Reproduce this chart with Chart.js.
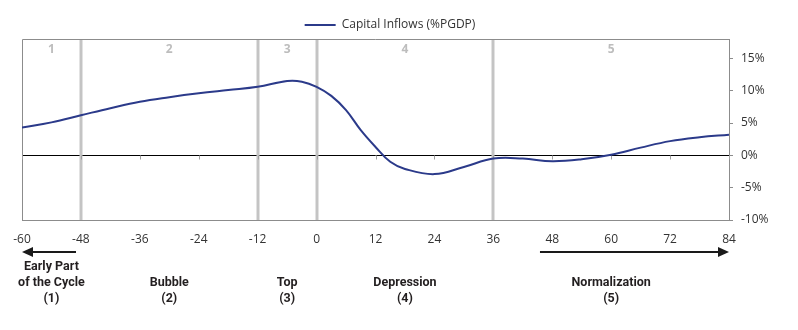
<!DOCTYPE html>
<html>
<head>
<meta charset="utf-8">
<script src="https://cdn.jsdelivr.net/npm/chart.js@4.4.1/dist/chart.umd.min.js"></script>
<style>
  html, body { margin: 0; padding: 0; background: #fff; }
  #wrap { width: 798px; height: 330px; position: relative; }
</style>
</head>
<body>
<div id="wrap"><canvas id="ciclo"></canvas></div>
<script>
// Months relative to the top of the cycle, and capital inflows (% of potential GDP)
const months = [-60, -54, -48, -42, -36, -30, -24, -18, -12, -6, -3, 0, 3, 6, 9, 12, 15, 18, 24, 30, 36, 42, 48, 54, 60, 66, 72, 78, 84];
const inflows = [4.3, 5.1, 6.2, 7.3, 8.3, 9.0, 9.6, 10.1, 10.6, 11.5, 11.4, 10.6, 9.2, 7.0, 3.9, 1.3, -1.0, -2.1, -2.9, -1.8, -0.5, -0.5, -0.9, -0.6, 0.1, 1.2, 2.2, 2.8, 3.2];

const yTicks = [-10, -5, 0, 5, 10, 15];
const phaseBounds = [-48, -12, 0, 36];
const phaseNums = ['1', '2', '3', '4', '5'];
const phaseNames = [
    ['Early Part', 'of the Cycle', '(1)'],
    ['Bubble', '(2)'],
    ['Top', '(3)'],
    ['Depression', '(4)'],
    ['Normalization', '(5)']
];
const arrowSpans = [[-49, -60], [45.5, 84]];

const X_MIN = -60, X_MAX = 84;

const edges = [X_MIN, ...phaseBounds, X_MAX];
const phaseCenters = phaseNums.map((_, i) => (edges[i] + edges[i + 1]) / 2);

const cicloPlugin = {
    id: 'ciclo',
    afterLayout(chart) {
        // la leyenda va un poco a la izquierda y mas abajo
        const lg = chart.legend;
        if (lg) {
            lg.left -= 20; lg.right -= 20;
            lg.top += 2; lg.bottom += 2;
        }
    },
    beforeDatasetsDraw(chart) {
        const { ctx, chartArea: a, scales: { x, y } } = chart;
        ctx.save();
        // marco gris
        ctx.strokeStyle = '#8c8c8c';
        ctx.lineWidth = 1;
        ctx.beginPath();
        ctx.moveTo(a.left + 0.5, a.bottom);
        ctx.lineTo(a.left + 0.5, a.top + 0.5);
        ctx.lineTo(a.right, a.top + 0.5);
        ctx.stroke();

        // separadores de fase
        ctx.strokeStyle = '#c4c4c4';
        ctx.lineWidth = 3;
        phaseBounds.forEach(b => {
            const px = Math.round(x.getPixelForValue(b));
            ctx.beginPath();
            ctx.moveTo(px, a.top + 1);
            ctx.lineTo(px, a.bottom);
            ctx.stroke();
        });

        // marcas del eje x sobre la linea de cero
        const y0 = Math.round(y.getPixelForValue(0)) + 0.5;
        ctx.strokeStyle = '#a0a0a0';
        ctx.lineWidth = 1;
        x.ticks.forEach(t => {
            const px = Math.round(x.getPixelForValue(t.value)) + 0.5;
            ctx.beginPath();
            ctx.moveTo(px, y0);
            ctx.lineTo(px, y0 + 4);
            ctx.stroke();
        });

        // numeros de fase
        ctx.fillStyle = '#bdbdbd';
        ctx.font = 'bold 12px "Open Sans", sans-serif';
        ctx.textAlign = 'center';
        ctx.textBaseline = 'middle';
        phaseCenters.forEach((c, i) => {
            ctx.fillText(phaseNums[i], x.getPixelForValue(c), a.top + 11);
        });
        ctx.restore();
    },
    afterDraw(chart) {
        const { ctx, chartArea: a, scales: { x } } = chart;
        ctx.save();
        // flechas
        const ay = a.bottom + 32;
        ctx.strokeStyle = '#1a1a1a';
        ctx.fillStyle = '#1a1a1a';
        ctx.lineWidth = 2;
        arrowSpans.forEach(([from, to]) => {
            const x1 = x.getPixelForValue(from);
            const x2 = x.getPixelForValue(to);
            const dir = Math.sign(x2 - x1);
            ctx.beginPath();
            ctx.moveTo(x1, ay);
            ctx.lineTo(x2 - dir * 8, ay);
            ctx.stroke();
            ctx.beginPath();
            ctx.moveTo(x2, ay);
            ctx.lineTo(x2 - dir * 11, ay - 5);
            ctx.lineTo(x2 - dir * 11, ay + 5);
            ctx.closePath();
            ctx.fill();
        });

        // nombres de fase
        ctx.fillStyle = '#231f20';
        ctx.font = 'bold 12.5px Roboto, sans-serif';
        ctx.textAlign = 'center';
        ctx.textBaseline = 'middle';
        phaseNames.forEach((lines, i) => {
            const cx = x.getPixelForValue(phaseCenters[i]);
            lines.forEach((txt, j) => {
                const yy = a.bottom + 79 - (lines.length - 1 - j) * 16;
                ctx.fillText(txt, cx, yy);
            });
        });
        ctx.restore();
    }
};

Chart.defaults.font.family = "'Open Sans', sans-serif";
Chart.defaults.font.size = 12;
Chart.defaults.color = '#333333';

new Chart(document.getElementById('ciclo').getContext('2d'), {
    type: 'line',
    data: {
        datasets: [{
            label: 'Capital Inflows (%PGDP)',
            data: months.map((m, i) => ({ x: m, y: inflows[i] })),
            borderColor: '#2b3a8a',
            backgroundColor: '#2b3a8a',
            borderWidth: 2,
            pointRadius: 0,
            tension: 0.4,
            fill: false
        }]
    },
    options: {
        responsive: true,
        maintainAspectRatio: false,
        animation: false,
        layout: { padding: { left: 22, right: 0, top: 7, bottom: 0 } },
        plugins: {
            legend: {
                position: 'top',
                labels: {
                    usePointStyle: true,
                    pointStyle: 'line',
                    pointStyleWidth: 31,
                    boxHeight: 12,
                    padding: 10,
                    color: '#333333',
                    font: { size: 12 }
                }
            },
            tooltip: { enabled: false }
        },
        scales: {
            x: {
                type: 'linear',
                min: X_MIN,
                max: X_MAX,
                position: 'bottom',
                ticks: { stepSize: 12, padding: 4, color: '#333333', maxRotation: 0 },
                grid: { display: false },
                border: { display: true, color: '#8c8c8c', width: 1 },
                afterFit: s => { s.height = 110; }
            },
            y: {
                position: 'right',
                min: -10,
                max: 18,
                afterBuildTicks: s => { s.ticks = yTicks.map(v => ({ value: v })); },
                ticks: {
                    padding: 8,
                    color: '#333333',
                    callback: v => v + '%'
                },
                grid: {
                    color: c => (c.tick && c.tick.value === 0) ? '#000000' : 'rgba(0,0,0,0)',
                    tickColor: '#8c8c8c',
                    tickLength: 4,
                    lineWidth: 1
                },
                border: { display: true, color: '#8c8c8c', width: 1 },
                afterFit: s => { s.width = 69; }
            }
        }
    },
    plugins: [cicloPlugin]
});
</script>
</body>
</html>
